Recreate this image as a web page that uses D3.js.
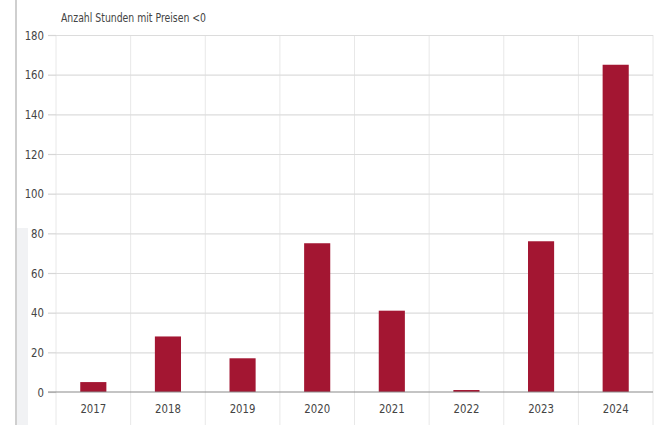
<!DOCTYPE html>
<html lang="de">
<head>
    <meta charset="UTF-8">
    <title>Anzahl Stunden mit Preisen &lt;0</title>
    <script src="https://cdn.jsdelivr.net/npm/d3@7"></script>
    <style>
        body { margin: 0; background: #fff; }
        svg text { font-family: "DejaVu Sans", sans-serif; fill: #444; }
    </style>
</head>
<body>
<div id="chart"></div>
<script>
    // data
    var years = ['2017', '2018', '2019', '2020', '2021', '2022', '2023', '2024'];
    var hours = [5, 28, 17, 75, 41, 1, 76, 165];
    var yTicks = [0, 20, 40, 60, 80, 100, 120, 140, 160, 180];
    var title = 'Anzahl Stunden mit Preisen <0';

    var width = 654, height = 425;
    var margin = {top: 35, right: 1, bottom: 33, left: 56};

    var svg = d3.select('#chart').append('svg')
        .attr('width', width)
        .attr('height', height);

    // page frame left of the chart
    svg.append('rect').attr('x', 17).attr('y', 228).attr('width', 11).attr('height', height - 228).attr('fill', '#f1f2f4');
    svg.append('line').attr('x1', 16).attr('x2', 16).attr('y1', 0).attr('y2', height)
        .attr('stroke', '#cfcfcf').attr('stroke-width', 2);

    var x = d3.scaleBand()
        .domain(years)
        .range([margin.left, width - margin.right])
        .paddingInner(0.65)
        .paddingOuter(0.325);

    var bands = d3.scaleBand()
        .domain(years)
        .range([margin.left, width - margin.right]);

    var y = d3.scaleLinear()
        .domain([0, 180])
        .range([height - margin.bottom, margin.top]);

    // condensed look: squeeze labels horizontally
    function squeeze(sel, k) {
        sel.each(function () {
            var t = d3.select(this);
            var w = this.getComputedTextLength();
            t.attr('textLength', w * k).attr('lengthAdjust', 'spacingAndGlyphs');
        });
    }

    // vertical grid at category borders
    var borders = years.map(function (d) { return bands(d); }).concat([width - margin.right]);
    svg.append('g').selectAll('line').data(borders).join('line')
        .attr('x1', d => d).attr('x2', d => d)
        .attr('y1', margin.top).attr('y2', height)
        .attr('stroke', '#e8e8e8').attr('stroke-width', 1);

    // y axis with grid
    var yAxis = svg.append('g')
        .attr('transform', `translate(${margin.left},0)`)
        .call(d3.axisLeft(y).tickValues(yTicks).tickSize(8).tickPadding(4)
            .tickSizeOuter(0));
    yAxis.select('.domain').remove();
    yAxis.selectAll('.tick line').attr('stroke', '#d6d6d6').attr('stroke-width', 1.2);
    yAxis.selectAll('.tick text').attr('font-size', 13).attr('fill', '#444').call(squeeze, 0.78);
    yAxis.selectAll('.tick').filter(d => d > 0).append('line')
        .attr('x1', 0).attr('x2', width - margin.right - margin.left)
        .attr('stroke', '#dcdcdc').attr('stroke-width', 1.2);

    // bars
    svg.append('g').selectAll('rect').data(years).join('rect')
        .attr('x', d => x(d))
        .attr('width', x.bandwidth())
        .attr('y', (d, i) => y(hours[i]))
        .attr('height', (d, i) => y(0) - y(hours[i]))
        .attr('fill', '#a31632');

    // baseline
    svg.append('line')
        .attr('x1', margin.left - 8).attr('x2', width - margin.right)
        .attr('y1', y(0)).attr('y2', y(0))
        .attr('stroke', '#8a8a8a').attr('stroke-width', 1.2);

    // x axis labels
    var xAxis = svg.append('g')
        .attr('transform', `translate(0,${y(0)})`)
        .call(d3.axisBottom(bands).tickSize(0).tickPadding(12));
    xAxis.select('.domain').remove();
    xAxis.selectAll('.tick text').attr('font-size', 13).attr('fill', '#444').call(squeeze, 0.78);

    svg.append('text')
        .attr('x', 61).attr('y', 22)
        .attr('font-size', 12.5)
        .attr('fill', '#333')
        .text(title)
        .call(squeeze, 0.745);
</script>
</body>
</html>
